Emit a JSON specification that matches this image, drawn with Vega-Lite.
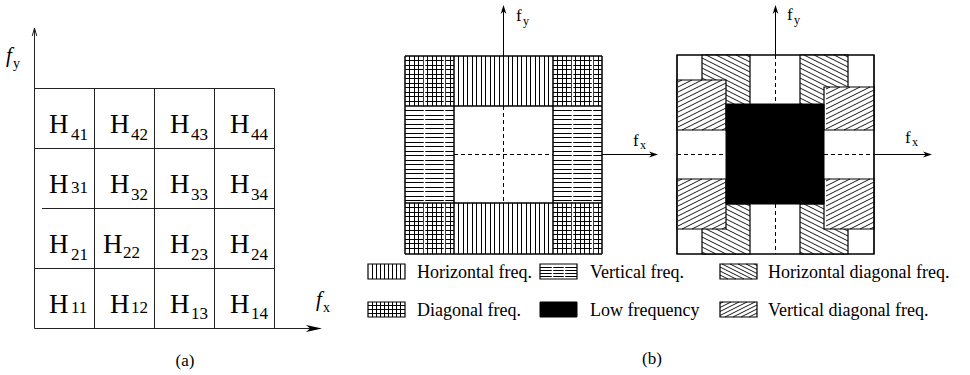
{
"$schema": "https://vega.github.io/schema/vega-lite/v6.json",
"width": 970, "height": 375,
"autosize": {"type": "fit", "contains": "padding"},
"padding": 0,
"background": "#ffffff",
"config": {"view": {"stroke": null}},
"encoding": {
 "x": {"field": "x", "type": "quantitative", "scale": {"domain": [0, 970], "nice": false, "zero": false}, "axis": null},
 "y": {"field": "y", "type": "quantitative", "scale": {"domain": [0, 375], "nice": false, "zero": false, "reverse": true}, "axis": null}
},
"datasets": {
 "rules": [
  {"g":"a","x":34.5,"y":28,"x2":34.5,"y2":328.5},
  {"g":"a","x":94.5,"y":88.5,"x2":94.5,"y2":328.5},
  {"g":"a","x":154.5,"y":88.5,"x2":154.5,"y2":328.5},
  {"g":"a","x":214.5,"y":88.5,"x2":214.5,"y2":328.5},
  {"g":"a","x":274.5,"y":88.5,"x2":274.5,"y2":328.5},
  {"g":"a","x":34.5,"y":88.5,"x2":274.5,"y2":88.5},
  {"g":"a","x":34.5,"y":148.5,"x2":274.5,"y2":148.5},
  {"g":"a","x":42,"y":208.5,"x2":274.5,"y2":208.5},
  {"g":"a","x":34.5,"y":268.5,"x2":274.5,"y2":268.5},
  {"g":"a","x":34.5,"y":328.5,"x2":316,"y2":328.5},

  {"g":"hA","x":405,"y":60.5,"x2":602,"y2":60.5},
  {"g":"hA","x":405,"y":65.5,"x2":602,"y2":65.5},
  {"g":"hA","x":405,"y":69.5,"x2":602,"y2":69.5},
  {"g":"hA","x":405,"y":74.5,"x2":602,"y2":74.5},
  {"g":"hA","x":405,"y":78.5,"x2":602,"y2":78.5},
  {"g":"hA","x":405,"y":83.5,"x2":602,"y2":83.5},
  {"g":"hA","x":405,"y":87.5,"x2":602,"y2":87.5},
  {"g":"hA","x":405,"y":92.5,"x2":602,"y2":92.5},
  {"g":"hA","x":405,"y":96.5,"x2":602,"y2":96.5},
  {"g":"hA","x":405,"y":101.5,"x2":602,"y2":101.5},
  {"g":"hA","x":405,"y":207.5,"x2":602,"y2":207.5},
  {"g":"hA","x":405,"y":212.5,"x2":602,"y2":212.5},
  {"g":"hA","x":405,"y":216.5,"x2":602,"y2":216.5},
  {"g":"hA","x":405,"y":221.5,"x2":602,"y2":221.5},
  {"g":"hA","x":405,"y":225.5,"x2":602,"y2":225.5},
  {"g":"hA","x":405,"y":230.5,"x2":602,"y2":230.5},
  {"g":"hA","x":405,"y":234.5,"x2":602,"y2":234.5},
  {"g":"hA","x":405,"y":239.5,"x2":602,"y2":239.5},
  {"g":"hA","x":405,"y":243.5,"x2":602,"y2":243.5},
  {"g":"hA","x":405,"y":248.5,"x2":602,"y2":248.5},

  {"g":"hB","x":409.5,"y":56,"x2":409.5,"y2":254},
  {"g":"hB","x":414.5,"y":56,"x2":414.5,"y2":254},
  {"g":"hB","x":418.5,"y":56,"x2":418.5,"y2":254},
  {"g":"hB","x":423.5,"y":56,"x2":423.5,"y2":254},
  {"g":"hB","x":427.5,"y":56,"x2":427.5,"y2":254},
  {"g":"hB","x":432.5,"y":56,"x2":432.5,"y2":254},
  {"g":"hB","x":436.5,"y":56,"x2":436.5,"y2":254},
  {"g":"hB","x":441.5,"y":56,"x2":441.5,"y2":254},
  {"g":"hB","x":445.5,"y":56,"x2":445.5,"y2":254},
  {"g":"hB","x":450.5,"y":56,"x2":450.5,"y2":254},
  {"g":"hB","x":458.5,"y":56,"x2":458.5,"y2":254},
  {"g":"hB","x":463.5,"y":56,"x2":463.5,"y2":254},
  {"g":"hB","x":467.5,"y":56,"x2":467.5,"y2":254},
  {"g":"hB","x":472.5,"y":56,"x2":472.5,"y2":254},
  {"g":"hB","x":476.5,"y":56,"x2":476.5,"y2":254},
  {"g":"hB","x":481.5,"y":56,"x2":481.5,"y2":254},
  {"g":"hB","x":485.5,"y":56,"x2":485.5,"y2":254},
  {"g":"hB","x":490.5,"y":56,"x2":490.5,"y2":254},
  {"g":"hB","x":494.5,"y":56,"x2":494.5,"y2":254},
  {"g":"hB","x":499.5,"y":56,"x2":499.5,"y2":254},
  {"g":"hB","x":503.5,"y":56,"x2":503.5,"y2":254},
  {"g":"hB","x":508.5,"y":56,"x2":508.5,"y2":254},
  {"g":"hB","x":512.5,"y":56,"x2":512.5,"y2":254},
  {"g":"hB","x":517.5,"y":56,"x2":517.5,"y2":254},
  {"g":"hB","x":521.5,"y":56,"x2":521.5,"y2":254},
  {"g":"hB","x":526.5,"y":56,"x2":526.5,"y2":254},
  {"g":"hB","x":530.5,"y":56,"x2":530.5,"y2":254},
  {"g":"hB","x":535.5,"y":56,"x2":535.5,"y2":254},
  {"g":"hB","x":539.5,"y":56,"x2":539.5,"y2":254},
  {"g":"hB","x":544.5,"y":56,"x2":544.5,"y2":254},
  {"g":"hB","x":548.5,"y":56,"x2":548.5,"y2":254},
  {"g":"hB","x":557.5,"y":56,"x2":557.5,"y2":254},
  {"g":"hB","x":562.5,"y":56,"x2":562.5,"y2":254},
  {"g":"hB","x":566.5,"y":56,"x2":566.5,"y2":254},
  {"g":"hB","x":571.5,"y":56,"x2":571.5,"y2":254},
  {"g":"hB","x":575.5,"y":56,"x2":575.5,"y2":254},
  {"g":"hB","x":580.5,"y":56,"x2":580.5,"y2":254},
  {"g":"hB","x":584.5,"y":56,"x2":584.5,"y2":254},
  {"g":"hB","x":589.5,"y":56,"x2":589.5,"y2":254},
  {"g":"hB","x":593.5,"y":56,"x2":593.5,"y2":254},
  {"g":"hB","x":598.5,"y":56,"x2":598.5,"y2":254},

  {"g":"hC","x":405,"y":110.5,"x2":602,"y2":110.5},
  {"g":"hC","x":405,"y":115.5,"x2":602,"y2":115.5},
  {"g":"hC","x":405,"y":119.5,"x2":602,"y2":119.5},
  {"g":"hC","x":405,"y":124.5,"x2":602,"y2":124.5},
  {"g":"hC","x":405,"y":128.5,"x2":602,"y2":128.5},
  {"g":"hC","x":405,"y":133.5,"x2":602,"y2":133.5},
  {"g":"hC","x":405,"y":137.5,"x2":602,"y2":137.5},
  {"g":"hC","x":405,"y":142.5,"x2":602,"y2":142.5},
  {"g":"hC","x":405,"y":146.5,"x2":602,"y2":146.5},
  {"g":"hC","x":405,"y":151.5,"x2":602,"y2":151.5},
  {"g":"hC","x":405,"y":155.5,"x2":602,"y2":155.5},
  {"g":"hC","x":405,"y":160.5,"x2":602,"y2":160.5},
  {"g":"hC","x":405,"y":164.5,"x2":602,"y2":164.5},
  {"g":"hC","x":405,"y":169.5,"x2":602,"y2":169.5},
  {"g":"hC","x":405,"y":173.5,"x2":602,"y2":173.5},
  {"g":"hC","x":405,"y":178.5,"x2":602,"y2":178.5},
  {"g":"hC","x":405,"y":182.5,"x2":602,"y2":182.5},
  {"g":"hC","x":405,"y":187.5,"x2":602,"y2":187.5},
  {"g":"hC","x":405,"y":191.5,"x2":602,"y2":191.5},
  {"g":"hC","x":405,"y":196.5,"x2":602,"y2":196.5},
  {"g":"hC","x":405,"y":200.5,"x2":602,"y2":200.5},

  {"g":"sm","x":424.5,"y":56,"x2":424.5,"y2":254},
  {"g":"sm","x":444.5,"y":56,"x2":444.5,"y2":254},
  {"g":"sm","x":572.5,"y":56,"x2":572.5,"y2":254},
  {"g":"sm","x":592.5,"y":56,"x2":592.5,"y2":254},

  {"g":"dash","x":503.5,"y":106,"x2":503.5,"y2":203},
  {"g":"dash","x":454,"y":154.5,"x2":553,"y2":154.5},
  {"g":"dash","x":775.5,"y":55,"x2":775.5,"y2":104},
  {"g":"dash","x":775.5,"y":204,"x2":775.5,"y2":254},
  {"g":"dash","x":677,"y":154.5,"x2":726,"y2":154.5},
  {"g":"dash","x":824,"y":154.5,"x2":874,"y2":154.5},

  {"g":"bd","x":405,"y":56,"x2":405,"y2":254},
  {"g":"bd","x":454,"y":56,"x2":454,"y2":254},
  {"g":"bd","x":553,"y":56,"x2":553,"y2":254},
  {"g":"bd","x":602,"y":56,"x2":602,"y2":254},
  {"g":"bd","x":405,"y":56,"x2":602,"y2":56},
  {"g":"bd","x":405,"y":106,"x2":602,"y2":106},
  {"g":"bd","x":405,"y":203,"x2":602,"y2":203},
  {"g":"bd","x":405,"y":254,"x2":602,"y2":254},

  {"g":"ax","x":503.5,"y":56,"x2":503.5,"y2":8},
  {"g":"ax","x":602,"y":154.5,"x2":654,"y2":154.5},
  {"g":"ax","x":775.5,"y":55,"x2":775.5,"y2":8},
  {"g":"ax","x":874,"y":154.5,"x2":928,"y2":154.5},

  {"g":"d1","x":746,"y":55,"x2":750,"y2":57},
  {"g":"d1","x":736,"y":55,"x2":750,"y2":62},
  {"g":"d1","x":726,"y":55,"x2":750,"y2":67},
  {"g":"d1","x":716,"y":55,"x2":750,"y2":72},
  {"g":"d1","x":706,"y":55,"x2":750,"y2":77},
  {"g":"d1","x":702,"y":58,"x2":750,"y2":82},
  {"g":"d1","x":702,"y":63,"x2":750,"y2":87},
  {"g":"d1","x":702,"y":68,"x2":750,"y2":92},
  {"g":"d1","x":702,"y":73,"x2":750,"y2":97},
  {"g":"d1","x":702,"y":78,"x2":750,"y2":102},
  {"g":"d1","x":702,"y":83,"x2":746,"y2":105},
  {"g":"d1","x":702,"y":88,"x2":736,"y2":105},
  {"g":"d1","x":702,"y":93,"x2":726,"y2":105},
  {"g":"d1","x":702,"y":98,"x2":716,"y2":105},
  {"g":"d1","x":702,"y":103,"x2":706,"y2":105},
  {"g":"d1","x":844,"y":55,"x2":848,"y2":57},
  {"g":"d1","x":834,"y":55,"x2":848,"y2":62},
  {"g":"d1","x":824,"y":55,"x2":848,"y2":67},
  {"g":"d1","x":814,"y":55,"x2":848,"y2":72},
  {"g":"d1","x":804,"y":55,"x2":848,"y2":77},
  {"g":"d1","x":800,"y":58,"x2":848,"y2":82},
  {"g":"d1","x":800,"y":63,"x2":848,"y2":87},
  {"g":"d1","x":800,"y":68,"x2":848,"y2":92},
  {"g":"d1","x":800,"y":73,"x2":848,"y2":97},
  {"g":"d1","x":800,"y":78,"x2":848,"y2":102},
  {"g":"d1","x":800,"y":83,"x2":844,"y2":105},
  {"g":"d1","x":800,"y":88,"x2":834,"y2":105},
  {"g":"d1","x":800,"y":93,"x2":824,"y2":105},
  {"g":"d1","x":800,"y":98,"x2":814,"y2":105},
  {"g":"d1","x":800,"y":103,"x2":804,"y2":105},
  {"g":"d1","x":746,"y":204,"x2":750,"y2":206},
  {"g":"d1","x":736,"y":204,"x2":750,"y2":211},
  {"g":"d1","x":726,"y":204,"x2":750,"y2":216},
  {"g":"d1","x":716,"y":204,"x2":750,"y2":221},
  {"g":"d1","x":706,"y":204,"x2":750,"y2":226},
  {"g":"d1","x":702,"y":207,"x2":750,"y2":231},
  {"g":"d1","x":702,"y":212,"x2":750,"y2":236},
  {"g":"d1","x":702,"y":217,"x2":750,"y2":241},
  {"g":"d1","x":702,"y":222,"x2":750,"y2":246},
  {"g":"d1","x":702,"y":227,"x2":750,"y2":251},
  {"g":"d1","x":702,"y":232,"x2":746,"y2":254},
  {"g":"d1","x":702,"y":237,"x2":736,"y2":254},
  {"g":"d1","x":702,"y":242,"x2":726,"y2":254},
  {"g":"d1","x":702,"y":247,"x2":716,"y2":254},
  {"g":"d1","x":702,"y":252,"x2":706,"y2":254},
  {"g":"d1","x":844,"y":204,"x2":848,"y2":206},
  {"g":"d1","x":834,"y":204,"x2":848,"y2":211},
  {"g":"d1","x":824,"y":204,"x2":848,"y2":216},
  {"g":"d1","x":814,"y":204,"x2":848,"y2":221},
  {"g":"d1","x":804,"y":204,"x2":848,"y2":226},
  {"g":"d1","x":800,"y":207,"x2":848,"y2":231},
  {"g":"d1","x":800,"y":212,"x2":848,"y2":236},
  {"g":"d1","x":800,"y":217,"x2":848,"y2":241},
  {"g":"d1","x":800,"y":222,"x2":848,"y2":246},
  {"g":"d1","x":800,"y":227,"x2":848,"y2":251},
  {"g":"d1","x":800,"y":232,"x2":844,"y2":254},
  {"g":"d1","x":800,"y":237,"x2":834,"y2":254},
  {"g":"d1","x":800,"y":242,"x2":824,"y2":254},
  {"g":"d1","x":800,"y":247,"x2":814,"y2":254},
  {"g":"d1","x":800,"y":252,"x2":804,"y2":254},
  {"g":"d1","x":754,"y":264,"x2":757,"y2":265.5},
  {"g":"d1","x":746,"y":264,"x2":757,"y2":269.5},
  {"g":"d1","x":738,"y":264,"x2":757,"y2":273.5},
  {"g":"d1","x":730,"y":264,"x2":757,"y2":277.5},
  {"g":"d1","x":722,"y":264,"x2":752,"y2":279},
  {"g":"d1","x":720,"y":267,"x2":744,"y2":279},
  {"g":"d1","x":720,"y":271,"x2":736,"y2":279},
  {"g":"d1","x":720,"y":275,"x2":728,"y2":279},

  {"g":"d2","x":682,"y":80,"x2":678,"y2":82},
  {"g":"d2","x":692,"y":80,"x2":678,"y2":87},
  {"g":"d2","x":702,"y":80,"x2":678,"y2":92},
  {"g":"d2","x":712,"y":80,"x2":678,"y2":97},
  {"g":"d2","x":722,"y":80,"x2":678,"y2":102},
  {"g":"d2","x":726,"y":83,"x2":678,"y2":107},
  {"g":"d2","x":726,"y":88,"x2":678,"y2":112},
  {"g":"d2","x":726,"y":93,"x2":678,"y2":117},
  {"g":"d2","x":726,"y":98,"x2":678,"y2":122},
  {"g":"d2","x":726,"y":103,"x2":678,"y2":127},
  {"g":"d2","x":726,"y":108,"x2":682,"y2":130},
  {"g":"d2","x":726,"y":113,"x2":692,"y2":130},
  {"g":"d2","x":726,"y":118,"x2":702,"y2":130},
  {"g":"d2","x":726,"y":123,"x2":712,"y2":130},
  {"g":"d2","x":726,"y":128,"x2":722,"y2":130},
  {"g":"d2","x":830,"y":87,"x2":826,"y2":89},
  {"g":"d2","x":840,"y":87,"x2":826,"y2":94},
  {"g":"d2","x":850,"y":87,"x2":826,"y2":99},
  {"g":"d2","x":860,"y":87,"x2":826,"y2":104},
  {"g":"d2","x":870,"y":87,"x2":826,"y2":109},
  {"g":"d2","x":874,"y":90,"x2":826,"y2":114},
  {"g":"d2","x":874,"y":95,"x2":826,"y2":119},
  {"g":"d2","x":874,"y":100,"x2":826,"y2":124},
  {"g":"d2","x":874,"y":105,"x2":826,"y2":129},
  {"g":"d2","x":874,"y":110,"x2":834,"y2":130},
  {"g":"d2","x":874,"y":115,"x2":844,"y2":130},
  {"g":"d2","x":874,"y":120,"x2":854,"y2":130},
  {"g":"d2","x":874,"y":125,"x2":864,"y2":130},
  {"g":"d2","x":682,"y":179,"x2":678,"y2":181},
  {"g":"d2","x":692,"y":179,"x2":678,"y2":186},
  {"g":"d2","x":702,"y":179,"x2":678,"y2":191},
  {"g":"d2","x":712,"y":179,"x2":678,"y2":196},
  {"g":"d2","x":722,"y":179,"x2":678,"y2":201},
  {"g":"d2","x":726,"y":182,"x2":678,"y2":206},
  {"g":"d2","x":726,"y":187,"x2":678,"y2":211},
  {"g":"d2","x":726,"y":192,"x2":678,"y2":216},
  {"g":"d2","x":726,"y":197,"x2":678,"y2":221},
  {"g":"d2","x":726,"y":202,"x2":678,"y2":226},
  {"g":"d2","x":726,"y":207,"x2":682,"y2":229},
  {"g":"d2","x":726,"y":212,"x2":692,"y2":229},
  {"g":"d2","x":726,"y":217,"x2":702,"y2":229},
  {"g":"d2","x":726,"y":222,"x2":712,"y2":229},
  {"g":"d2","x":726,"y":227,"x2":722,"y2":229},
  {"g":"d2","x":830,"y":179,"x2":826,"y2":181},
  {"g":"d2","x":840,"y":179,"x2":826,"y2":186},
  {"g":"d2","x":850,"y":179,"x2":826,"y2":191},
  {"g":"d2","x":860,"y":179,"x2":826,"y2":196},
  {"g":"d2","x":870,"y":179,"x2":826,"y2":201},
  {"g":"d2","x":874,"y":182,"x2":826,"y2":206},
  {"g":"d2","x":874,"y":187,"x2":826,"y2":211},
  {"g":"d2","x":874,"y":192,"x2":826,"y2":216},
  {"g":"d2","x":874,"y":197,"x2":826,"y2":221},
  {"g":"d2","x":874,"y":202,"x2":826,"y2":226},
  {"g":"d2","x":874,"y":207,"x2":830,"y2":229},
  {"g":"d2","x":874,"y":212,"x2":840,"y2":229},
  {"g":"d2","x":874,"y":217,"x2":850,"y2":229},
  {"g":"d2","x":874,"y":222,"x2":860,"y2":229},
  {"g":"d2","x":874,"y":227,"x2":870,"y2":229},
  {"g":"d2","x":723,"y":302,"x2":720,"y2":303.5},
  {"g":"d2","x":731,"y":302,"x2":720,"y2":307.5},
  {"g":"d2","x":739,"y":302,"x2":720,"y2":311.5},
  {"g":"d2","x":747,"y":302,"x2":720,"y2":315.5},
  {"g":"d2","x":755,"y":302,"x2":725,"y2":317},
  {"g":"d2","x":757,"y":305,"x2":733,"y2":317},
  {"g":"d2","x":757,"y":309,"x2":741,"y2":317},
  {"g":"d2","x":757,"y":313,"x2":749,"y2":317},

  {"g":"lg","x":372.5,"y":264,"x2":372.5,"y2":279},
  {"g":"lg","x":376.5,"y":264,"x2":376.5,"y2":279},
  {"g":"lg","x":380.5,"y":264,"x2":380.5,"y2":279},
  {"g":"lg","x":384.5,"y":264,"x2":384.5,"y2":279},
  {"g":"lg","x":388.5,"y":264,"x2":388.5,"y2":279},
  {"g":"lg","x":392.5,"y":264,"x2":392.5,"y2":279},
  {"g":"lg","x":396.5,"y":264,"x2":396.5,"y2":279},
  {"g":"lg","x":400.5,"y":264,"x2":400.5,"y2":279},
  {"g":"lg","x":372.5,"y":302,"x2":372.5,"y2":317},
  {"g":"lg","x":376.5,"y":302,"x2":376.5,"y2":317},
  {"g":"lg","x":380.5,"y":302,"x2":380.5,"y2":317},
  {"g":"lg","x":384.5,"y":302,"x2":384.5,"y2":317},
  {"g":"lg","x":388.5,"y":302,"x2":388.5,"y2":317},
  {"g":"lg","x":392.5,"y":302,"x2":392.5,"y2":317},
  {"g":"lg","x":396.5,"y":302,"x2":396.5,"y2":317},
  {"g":"lg","x":400.5,"y":302,"x2":400.5,"y2":317},
  {"g":"lg","x":368,"y":305.5,"x2":405,"y2":305.5},
  {"g":"lg","x":368,"y":309.5,"x2":405,"y2":309.5},
  {"g":"lg","x":368,"y":313.5,"x2":405,"y2":313.5},
  {"g":"lg","x":540,"y":267.5,"x2":577,"y2":267.5},
  {"g":"lg","x":540,"y":270.5,"x2":577,"y2":270.5},
  {"g":"lg","x":540,"y":273.5,"x2":577,"y2":273.5},
  {"g":"lg","x":540,"y":276.5,"x2":577,"y2":276.5},
  {"g":"lgs","x":552.5,"y":264,"x2":552.5,"y2":279},
  {"g":"lgs","x":564.5,"y":264,"x2":564.5,"y2":279}
 ],
 "rects": [
  {"g":"wM","x":454,"y":56,"x2":553,"y2":254},
  {"g":"wB","x":405,"y":106,"x2":602,"y2":203},
  {"g":"wC","x":454,"y":106,"x2":553,"y2":203},
  {"g":"o","x":677,"y":55,"x2":874,"y2":254},
  {"g":"bs","x":702,"y":55,"x2":750,"y2":105},
  {"g":"bs","x":800,"y":55,"x2":848,"y2":105},
  {"g":"bs","x":702,"y":204,"x2":750,"y2":254},
  {"g":"bs","x":800,"y":204,"x2":848,"y2":254},
  {"g":"fs","x":677,"y":80,"x2":726,"y2":130},
  {"g":"fs","x":824,"y":87,"x2":874,"y2":130},
  {"g":"fs","x":677,"y":179,"x2":726,"y2":229},
  {"g":"fs","x":824,"y":179,"x2":874,"y2":229},
  {"g":"blk","x":726,"y":104,"x2":824,"y2":204},
  {"g":"blk","x":540,"y":302,"x2":577,"y2":317},
  {"g":"sw","x":368,"y":264,"x2":405,"y2":279},
  {"g":"sw","x":540,"y":264,"x2":577,"y2":279},
  {"g":"sw","x":720,"y":264,"x2":757,"y2":279},
  {"g":"sw","x":368,"y":302,"x2":405,"y2":317},
  {"g":"sw","x":720,"y":302,"x2":757,"y2":317}
 ],
 "arrows": [
  {"g":"ax","x":322,"y":328.5},
  {"g":"ay","x":34.5,"y":28},
  {"g":"bu","x":503.5,"y":5},
  {"g":"bu","x":775.5,"y":5},
  {"g":"br","x":658,"y":154.5},
  {"g":"br","x":932,"y":154.5}
 ],
 "txt": [
  {"g":"H","x":49,"y":133,"t":"H"},{"g":"H","x":110,"y":133,"t":"H"},{"g":"H","x":170,"y":133,"t":"H"},{"g":"H","x":230,"y":133,"t":"H"},
  {"g":"H","x":49,"y":193,"t":"H"},{"g":"H","x":110,"y":193,"t":"H"},{"g":"H","x":170,"y":193,"t":"H"},{"g":"H","x":230,"y":193,"t":"H"},
  {"g":"H","x":49,"y":253,"t":"H"},{"g":"H","x":103,"y":253,"t":"H"},{"g":"H","x":170,"y":253,"t":"H"},{"g":"H","x":230,"y":253,"t":"H"},
  {"g":"H","x":49,"y":313,"t":"H"},{"g":"H","x":110,"y":313,"t":"H"},{"g":"H","x":170,"y":313,"t":"H"},{"g":"H","x":230,"y":313,"t":"H"},
  {"g":"n","x":71,"y":140,"t":"41"},{"g":"n","x":131,"y":140,"t":"42"},{"g":"n","x":191,"y":140,"t":"43"},{"g":"n","x":251,"y":140,"t":"44"},
  {"g":"n","x":71,"y":193,"t":"31"},{"g":"n","x":131,"y":200,"t":"32"},{"g":"n","x":191,"y":200,"t":"33"},{"g":"n","x":251,"y":200,"t":"34"},
  {"g":"n","x":71,"y":260,"t":"21"},{"g":"n","x":123,"y":258,"t":"22"},{"g":"n","x":191,"y":260,"t":"23"},{"g":"n","x":251,"y":260,"t":"24"},
  {"g":"n","x":71,"y":313,"t":"11"},{"g":"n","x":131,"y":313,"t":"12"},{"g":"n","x":191,"y":319,"t":"13"},{"g":"n","x":251,"y":319,"t":"14"},
  {"g":"fi","x":6,"y":62,"t":"f"},{"g":"fi","x":316,"y":306,"t":"f"},
  {"g":"fsub","x":13,"y":68,"t":"y"},{"g":"fsub","x":323,"y":312,"t":"x"},
  {"g":"bf","x":516,"y":21,"t":"f"},{"g":"bf","x":787,"y":20,"t":"f"},{"g":"bf","x":633,"y":146,"t":"f"},{"g":"bf","x":905,"y":143,"t":"f"},
  {"g":"bsub","x":523,"y":25,"t":"y"},{"g":"bsub","x":794,"y":24,"t":"y"},{"g":"bsub","x":640,"y":149,"t":"x"},{"g":"bsub","x":912,"y":146,"t":"x"},
  {"g":"cap","x":185,"y":366,"t":"(a)"},{"g":"cap","x":652,"y":364,"t":"(b)"},
  {"g":"leg","x":417,"y":278,"t":"Horizontal freq."},
  {"g":"leg","x":590,"y":278,"t":"Vertical freq."},
  {"g":"leg","x":768,"y":278,"t":"Horizontal diagonal freq."},
  {"g":"leg","x":417,"y":316,"t":"Diagonal freq."},
  {"g":"leg","x":590,"y":316,"t":"Low frequency"},
  {"g":"leg","x":768,"y":316,"t":"Vertical diagonal freq."}
 ]
},
"layer": [
 {"data":{"name":"rules"},"transform":[{"filter":"datum.g==='a'"}],"mark":{"type":"rule","color":"#222","strokeWidth":1},"encoding":{"x2":{"field":"x2"},"y2":{"field":"y2"}}},
 {"data":{"name":"arrows"},"transform":[{"filter":"datum.g==='ax'"}],"mark":{"type":"point","shape":"M0,0L-1,-0.22L-0.75,0L-1,0.22Z","size":1024,"filled":true,"color":"#000","opacity":1,"strokeWidth":0}},
 {"data":{"name":"arrows"},"transform":[{"filter":"datum.g==='ay'"}],"mark":{"type":"point","shape":"M-0.28,1L0,0L0.28,1","size":256,"filled":false,"color":"#222","opacity":1,"strokeWidth":1}},
 {"data":{"name":"rules"},"transform":[{"filter":"datum.g==='hA'"}],"mark":{"type":"rule","color":"#000","strokeWidth":1},"encoding":{"x2":{"field":"x2"},"y2":{"field":"y2"}}},
 {"data":{"name":"rects"},"transform":[{"filter":"datum.g==='wM'"}],"mark":{"type":"rect","fill":"#fff","strokeWidth":0},"encoding":{"x2":{"field":"x2"},"y2":{"field":"y2"}}},
 {"data":{"name":"rules"},"transform":[{"filter":"datum.g==='hB'"}],"mark":{"type":"rule","color":"#000","strokeWidth":1},"encoding":{"x2":{"field":"x2"},"y2":{"field":"y2"}}},
 {"data":{"name":"rects"},"transform":[{"filter":"datum.g==='wB'"}],"mark":{"type":"rect","fill":"#fff","strokeWidth":0},"encoding":{"x2":{"field":"x2"},"y2":{"field":"y2"}}},
 {"data":{"name":"rules"},"transform":[{"filter":"datum.g==='hC'"}],"mark":{"type":"rule","color":"#000","strokeWidth":1},"encoding":{"x2":{"field":"x2"},"y2":{"field":"y2"}}},
 {"data":{"name":"rects"},"transform":[{"filter":"datum.g==='wC'"}],"mark":{"type":"rect","fill":"#fff","strokeWidth":0},"encoding":{"x2":{"field":"x2"},"y2":{"field":"y2"}}},
 {"data":{"name":"rules"},"transform":[{"filter":"datum.g==='sm'"}],"mark":{"type":"rule","color":"#fff","strokeWidth":1.5},"encoding":{"x2":{"field":"x2"},"y2":{"field":"y2"}}},
 {"data":{"name":"rects"},"transform":[{"filter":"datum.g==='o'"}],"mark":{"type":"rect","fill":"#fff","stroke":"#000","strokeWidth":1.2},"encoding":{"x2":{"field":"x2"},"y2":{"field":"y2"}}},
 {"data":{"name":"rules"},"transform":[{"filter":"datum.g==='dash'"}],"mark":{"type":"rule","color":"#000","strokeWidth":1,"strokeDash":[4,3]},"encoding":{"x2":{"field":"x2"},"y2":{"field":"y2"}}},
 {"data":{"name":"rules"},"transform":[{"filter":"datum.g==='bd'"}],"mark":{"type":"rule","color":"#000","strokeWidth":1.5},"encoding":{"x2":{"field":"x2"},"y2":{"field":"y2"}}},
 {"data":{"name":"rules"},"transform":[{"filter":"datum.g==='ax'"}],"mark":{"type":"rule","color":"#000","strokeWidth":1},"encoding":{"x2":{"field":"x2"},"y2":{"field":"y2"}}},
 {"data":{"name":"arrows"},"transform":[{"filter":"datum.g==='bu'"}],"mark":{"type":"point","shape":"M0,0L0.32,1L0,0.7L-0.32,1Z","size":324,"filled":true,"color":"#000","opacity":1,"strokeWidth":0}},
 {"data":{"name":"arrows"},"transform":[{"filter":"datum.g==='br'"}],"mark":{"type":"point","shape":"M0,0L-1,-0.32L-0.7,0L-1,0.32Z","size":324,"filled":true,"color":"#000","opacity":1,"strokeWidth":0}},
 {"data":{"name":"rects"},"transform":[{"filter":"datum.g==='bs'"}],"mark":{"type":"rect","fill":"#fff","stroke":"#000","strokeWidth":1.2},"encoding":{"x2":{"field":"x2"},"y2":{"field":"y2"}}},
 {"data":{"name":"rules"},"transform":[{"filter":"datum.g==='d1'"}],"mark":{"type":"rule","color":"#000","strokeWidth":0.9},"encoding":{"x2":{"field":"x2"},"y2":{"field":"y2"}}},
 {"data":{"name":"rects"},"transform":[{"filter":"datum.g==='fs'"}],"mark":{"type":"rect","fill":"#fff","stroke":"#000","strokeWidth":1.2},"encoding":{"x2":{"field":"x2"},"y2":{"field":"y2"}}},
 {"data":{"name":"rules"},"transform":[{"filter":"datum.g==='d2'"}],"mark":{"type":"rule","color":"#000","strokeWidth":0.9},"encoding":{"x2":{"field":"x2"},"y2":{"field":"y2"}}},
 {"data":{"name":"rects"},"transform":[{"filter":"datum.g==='blk'"}],"mark":{"type":"rect","fill":"#000","stroke":"#000","strokeWidth":1},"encoding":{"x2":{"field":"x2"},"y2":{"field":"y2"}}},
 {"data":{"name":"rects"},"transform":[{"filter":"datum.g==='o'"}],"mark":{"type":"rect","fill":null,"fillOpacity":0,"stroke":"#000","strokeWidth":1.2},"encoding":{"x2":{"field":"x2"},"y2":{"field":"y2"}}},
 {"data":{"name":"rules"},"transform":[{"filter":"datum.g==='lg'"}],"mark":{"type":"rule","color":"#000","strokeWidth":1},"encoding":{"x2":{"field":"x2"},"y2":{"field":"y2"}}},
 {"data":{"name":"rules"},"transform":[{"filter":"datum.g==='lgs'"}],"mark":{"type":"rule","color":"#fff","strokeWidth":1.5},"encoding":{"x2":{"field":"x2"},"y2":{"field":"y2"}}},
 {"data":{"name":"rects"},"transform":[{"filter":"datum.g==='sw'"}],"mark":{"type":"rect","fill":null,"fillOpacity":0,"stroke":"#000","strokeWidth":1.2},"encoding":{"x2":{"field":"x2"},"y2":{"field":"y2"}}},
 {"data":{"name":"txt"},"transform":[{"filter":"datum.g==='H'"}],"mark":{"type":"text","font":"Liberation Serif","fontSize":27,"align":"left","baseline":"alphabetic","color":"#000"},"encoding":{"text":{"field":"t"}}},
 {"data":{"name":"txt"},"transform":[{"filter":"datum.g==='n'"}],"mark":{"type":"text","font":"Liberation Serif","fontSize":17,"align":"left","baseline":"alphabetic","color":"#000"},"encoding":{"text":{"field":"t"}}},
 {"data":{"name":"txt"},"transform":[{"filter":"datum.g==='fi'"}],"mark":{"type":"text","font":"Liberation Serif","fontSize":21,"fontStyle":"italic","align":"left","baseline":"alphabetic","color":"#000"},"encoding":{"text":{"field":"t"}}},
 {"data":{"name":"txt"},"transform":[{"filter":"datum.g==='fsub'"}],"mark":{"type":"text","font":"Liberation Serif","fontSize":14,"align":"left","baseline":"alphabetic","color":"#000"},"encoding":{"text":{"field":"t"}}},
 {"data":{"name":"txt"},"transform":[{"filter":"datum.g==='bf'"}],"mark":{"type":"text","font":"Liberation Serif","fontSize":17,"align":"left","baseline":"alphabetic","color":"#000"},"encoding":{"text":{"field":"t"}}},
 {"data":{"name":"txt"},"transform":[{"filter":"datum.g==='bsub'"}],"mark":{"type":"text","font":"Liberation Serif","fontSize":12,"align":"left","baseline":"alphabetic","color":"#000"},"encoding":{"text":{"field":"t"}}},
 {"data":{"name":"txt"},"transform":[{"filter":"datum.g==='cap'"}],"mark":{"type":"text","font":"Liberation Serif","fontSize":17,"align":"center","baseline":"alphabetic","color":"#000"},"encoding":{"text":{"field":"t"}}},
 {"data":{"name":"txt"},"transform":[{"filter":"datum.g==='leg'"}],"mark":{"type":"text","font":"Liberation Serif","fontSize":18,"align":"left","baseline":"alphabetic","color":"#000"},"encoding":{"text":{"field":"t"}}}
]
}
